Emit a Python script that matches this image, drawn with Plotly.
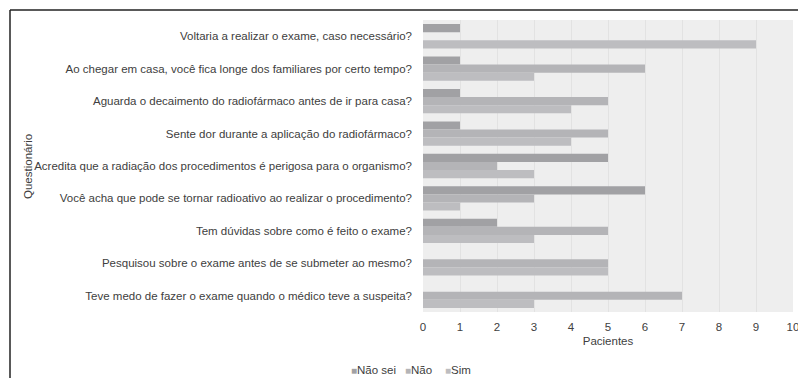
import plotly.graph_objects as go

# ---- data ----
questions = [
    "Voltaria a realizar o exame, caso necessário?",
    "Ao chegar em casa, você fica longe dos familiares por certo tempo?",
    "Aguarda o decaimento do radiofármaco antes de ir para casa?",
    "Sente dor durante a aplicação do radiofármaco?",
    "Acredita que a radiação dos procedimentos é perigosa para o organismo?",
    "Você acha que pode se tornar radioativo ao realizar o procedimento?",
    "Tem dúvidas sobre como é feito o exame?",
    "Pesquisou sobre o exame antes de se submeter ao mesmo?",
    "Teve medo de fazer o exame quando o médico teve a suspeita?",
]
series_names = ["Não sei", "Não", "Sim"]
nao_sei = [1, 1, 1, 1, 5, 6, 2, 0, 0]
nao = [0, 6, 5, 5, 2, 3, 5, 5, 7]
sim = [9, 3, 4, 4, 3, 1, 3, 5, 3]
x_ticks = list(range(0, 11))
colors = ["#a1a1a4", "#b4b4b7", "#bdbdc0"]

W, H = 798, 378
ML, MR, MT, MB = 423, 5, 20, 66
PW, PH = W - ML - MR, H - MT - MB


def px_x(px):
    return (px - ML) / PW


def px_y(py):
    return (H - MB - py) / PH


fig = go.Figure()
for name, vals, col in zip(series_names, [nao_sei, nao, sim], colors):
    fig.add_trace(go.Bar(
        y=questions, x=vals, name=name, orientation="h",
        marker=dict(color=col, line=dict(width=0)),
        showlegend=False,
    ))

txt_color = "#404040"
font_family = "Liberation Sans, Arial, sans-serif"
fs = 11.5

fig.update_layout(
    width=W, height=H,
    margin=dict(l=ML, r=MR, t=MT, b=MB, autoexpand=False),
    paper_bgcolor="white",
    plot_bgcolor="#eeeeee",
    barmode="group",
    bargap=0.25,
    bargroupgap=0,
    font=dict(family=font_family, size=fs, color=txt_color),
    xaxis=dict(
        range=[0, 10], tickvals=x_ticks, ticktext=[str(v) for v in x_ticks],
        showgrid=True, gridcolor="#e2e2e2", gridwidth=1,
        zeroline=False, showline=False, ticks="",
        ticklabelstandoff=6,
        ticklabeloverflow="allow",
        tickfont=dict(size=fs, color=txt_color),
        title=dict(text="Pacientes", standoff=5, font=dict(size=fs, color=txt_color)),
        fixedrange=True,
    ),
    yaxis=dict(
        categoryorder="array", categoryarray=questions,
        autorange="reversed",
        showgrid=False, zeroline=False, showline=False, ticks="",
        ticklabelstandoff=10,
        tickfont=dict(size=fs, color=txt_color),
        automargin=False,
        fixedrange=True,
    ),
)

# y-axis title
fig.add_annotation(
    text="Questionário", textangle=-90, showarrow=False,
    xref="paper", yref="paper", x=px_x(28), y=px_y(167),
    xanchor="center", yanchor="middle",
    font=dict(size=fs, color=txt_color),
)

# legend built from the series
legend_x = [349, 403, 443]
for name, col, lx in zip(series_names, colors, legend_x):
    fig.add_annotation(
        text=f"<span style='color:{col};font-size:10px'>■</span>{name}",
        showarrow=False, xref="paper", yref="paper",
        x=px_x(lx), y=px_y(370), xanchor="left", yanchor="middle",
        font=dict(size=fs, color=txt_color),
    )

# outer frame lines
fig.add_shape(type="line", xref="paper", yref="paper",
              x0=px_x(10), x1=px_x(800), y0=px_y(10), y1=px_y(10),
              line=dict(color="#222222", width=1.5))
fig.add_shape(type="line", xref="paper", yref="paper",
              x0=px_x(10), x1=px_x(10), y0=px_y(10), y1=px_y(380),
              line=dict(color="#222222", width=1.5))

fig.write_html("out.html")
